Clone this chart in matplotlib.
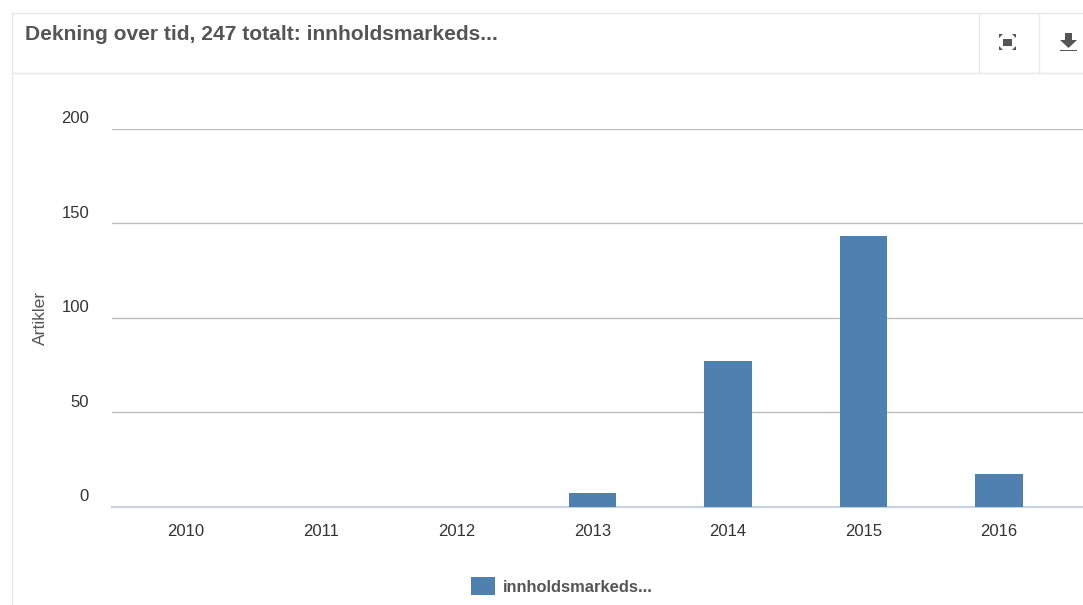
import matplotlib
matplotlib.use("Agg")
import matplotlib.pyplot as plt
from matplotlib.patches import Rectangle, Polygon

years = ["2010", "2011", "2012", "2013", "2014", "2015", "2016"]
articles = [0, 0, 0, 7, 77, 143, 17]
y_ticks = [0, 50, 100, 150, 200]
title = "Dekning over tid, 247 totalt: innholdsmarkeds..."
series_name = "innholdsmarkeds..."
y_label = "Artikler"

BAR = "#4f81b0"
TEXT = "#333333"
HEAD = "#555555"
BORDER = "#e8e8e8"
W, H = 1083, 605

plt.rcParams["font.family"] = ["Liberation Sans", "DejaVu Sans"]
fig = plt.figure(figsize=(W / 100, H / 100), dpi=100, facecolor="white")

# Panel frame, header bar and toolbar icons, laid out in pixel coordinates
chrome = fig.add_axes([0, 0, 1, 1])
chrome.set_xlim(0, W)
chrome.set_ylim(H, 0)
chrome.axis("off")
chrome.plot([12, 12], [13, H], color=BORDER, lw=1.0)
chrome.plot([12, W], [13, 13], color=BORDER, lw=1.0)
chrome.plot([12, W], [72.5, 72.5], color=BORDER, lw=1.0)
chrome.plot([978.5, 978.5], [13, 72.5], color=BORDER, lw=1.0)
chrome.plot([1038.5, 1038.5], [13, 72.5], color=BORDER, lw=1.0)
chrome.text(25, 34.5, title, fontsize=15.1, fontweight="bold", color=HEAD, va="center", ha="left")

# Fullscreen icon: centre block with four corner arrows
chrome.add_patch(Rectangle((1003, 39), 9, 6.5, color=HEAD, lw=0))
for cx, cy, sx, sy in [(999, 34, 1, 1), (1016, 34, -1, 1), (999, 50, 1, -1), (1016, 50, -1, -1)]:
    chrome.add_patch(Polygon([(cx, cy), (cx + 4 * sx, cy), (cx, cy + 4 * sy)], color=HEAD, lw=0))

# Download icon: arrow over a baseline
chrome.add_patch(Polygon([(1065, 33), (1072, 33), (1072, 40), (1077, 40), (1068.5, 48), (1060, 40), (1065, 40)],
                         color=HEAD, lw=0))
chrome.add_patch(Rectangle((1060, 49.5), 17, 1.6, color=HEAD, lw=0))

# Bar chart
ax = fig.add_axes([112 / W, 1 - 506.5 / H, (W - 112) / W, 378 / H])
ax.patch.set_alpha(0)
positions = list(range(len(years)))
ax.bar(positions, articles, width=0.354, color=BAR, zorder=3)
ax.set_xlim(-0.546, 6.62)
ax.set_ylim(0, 200)
for s in ["top", "right", "left", "bottom"]:
    ax.spines[s].set_visible(False)
ax.set_yticks(y_ticks)
ax.set_yticklabels([])
ax.tick_params(axis="y", length=0)
ax.tick_params(axis="x", length=0, pad=12.5, labelsize=12, labelcolor=TEXT)
ax.set_xticks(positions)
ax.set_xticklabels(years)
ax.grid(axis="y", color="#bdbdbd", lw=1.0, zorder=1)
ax.axhline(0, color="#c6d3e3", lw=1.6, zorder=2, clip_on=False)

# Value-axis labels sit just above their grid lines
for v in y_ticks:
    ax.annotate(str(v), xy=(0, v), xycoords=ax.get_yaxis_transform(), xytext=(-16.5, 7),
                textcoords="offset points", ha="right", va="center", fontsize=12, color=TEXT)

chrome.text(40.5, 318, y_label, rotation=90, fontsize=12.6, color=HEAD, ha="center", va="center")

# Legend entry
chrome.add_patch(Rectangle((471, 577), 24, 18, color=BAR, lw=0))
chrome.text(503, 588, series_name, fontsize=11.9, fontweight="bold", color=HEAD, ha="left", va="center")

fig.savefig("out.png", dpi=100, facecolor="white")
